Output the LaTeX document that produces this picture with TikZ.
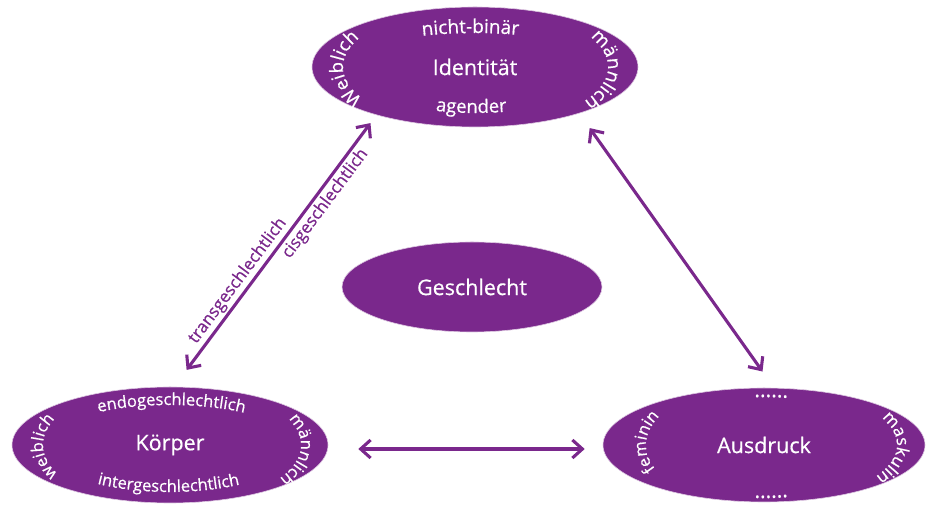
\documentclass[tikz,border=0pt]{standalone}
\usepackage{fontspec}
\setmainfont{Open Sans}[FakeBold=0.6]
\newfontfamily\boldish{Open Sans}[FakeBold=0.6]
\usetikzlibrary{arrows.meta,decorations.text,calc,shapes.geometric}
\definecolor{gp}{RGB}{122,40,140}
\newcommand{\lblfont}[1]{\color{white}\boldish\fontsize{#1}{#1}\selectfont}
% #1 node, #2 start angle, #3 end angle, #4 x radius, #5 y radius, #6 size, #7 text
\newcommand{\curvtext}[7]{%
  \path[decorate, decoration={text along path, text align=center,
        text={|\lblfont{#6}|#7}}]
    ($(#1)+(#2:#4 and #5)$) arc[start angle=#2, end angle=#3, x radius=#4, y radius=#5];}
\begin{document}
\begin{tikzpicture}[x=1pt,y=1pt,
  blob/.style={ellipse, fill=gp, draw=gp!25, line width=0.6pt, inner sep=0pt, text=white,
               font=\boldish\fontsize{21.5}{24}\selectfont},
  arr/.style={draw=gp, line width=3.1pt,
              {Straight Barb[length=10pt,width=18pt]}-{Straight Barb[length=10pt,width=18pt]}},
  dlbl/.style={text=gp, font=\boldish\fontsize{17}{19}\selectfont, sloped, inner sep=2pt}
]
\useasboundingbox (0,0) rectangle (926,505);

\node[blob, minimum width=326pt, minimum height=120pt] (I) at (475,438) {Identität};
\node[blob, minimum width=316pt, minimum height=116pt] (K) at (170,60) {Körper};
\node[blob, minimum width=322pt, minimum height=114pt] (A) at (764,60) {Ausdruck};
\node[blob, minimum width=260pt, minimum height=90pt] (G) at (472,218) {Geschlecht};

% Identität labels
\curvtext{I}{130}{55}{130}{34}{19}{nicht-binär}
\curvtext{I}{230}{306}{130}{46}{18.5}{agender}
\curvtext{I}{232}{130}{132}{60}{18.5}{Weiblich}
\curvtext{I}{48}{-52}{133}{60}{18.5}{männlich}

% Körper labels
\curvtext{K}{140}{38}{125}{40}{16.5}{endogeschlechtlich}
\curvtext{K}{215}{323}{129}{47}{16.5}{intergeschlechtlich}
\curvtext{K}{236}{126}{127}{62}{16.5}{weiblich}
\curvtext{K}{50}{-56}{131}{61}{16.5}{männlich}

% Ausdruck labels
\curvtext{A}{120}{52}{120}{48}{21}{......}
\curvtext{A}{240}{308}{120}{53}{21}{......}
\curvtext{A}{225}{131}{118}{62}{16.5}{feminin}
\curvtext{A}{45}{-49}{133}{58}{17}{maskulin}

% connectors
\draw[arr, shorten <=21pt, shorten >=10pt] (K.86) -- (I.206)
  node[dlbl, pos=.363, above] {transgeschlechtlich}
  node[dlbl, pos=.70, below] {cisgeschlechtlich};
\draw[arr, shorten <=18pt, shorten >=20pt] (I.336) -- (A.80);
\draw[arr, shorten <=30pt, shorten >=18pt] ([yshift=-4pt]K.east) -- ([yshift=-4pt]A.west);
\end{tikzpicture}
\end{document}
